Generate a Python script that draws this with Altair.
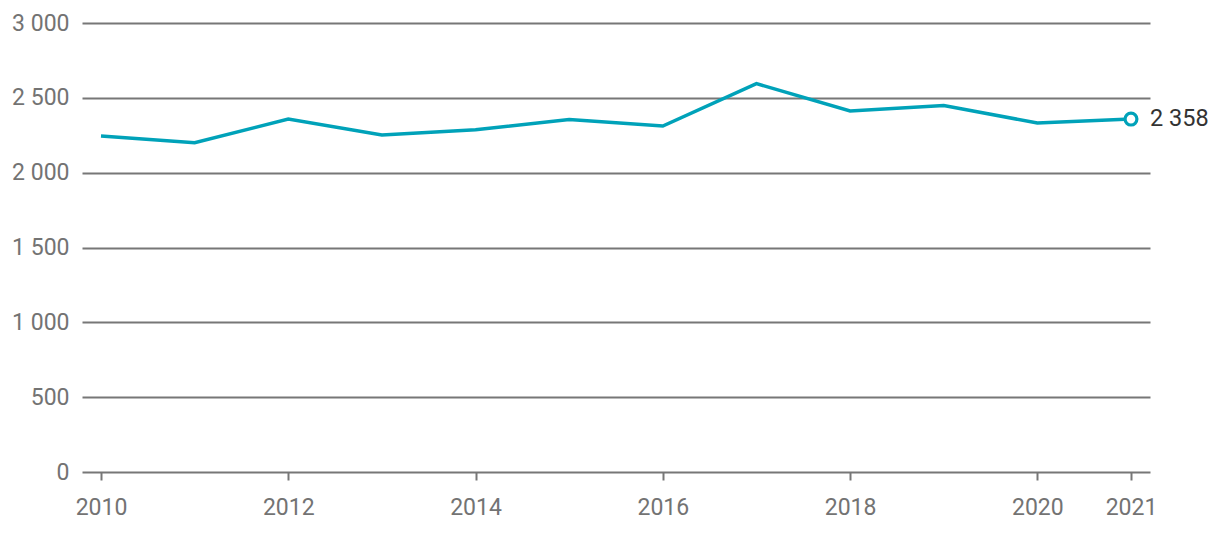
import altair as alt
import pandas as pd

years = [2010, 2011, 2012, 2013, 2014, 2015, 2016, 2017, 2018, 2019, 2020, 2021]
values = [2245, 2200, 2358, 2252, 2287, 2355, 2312, 2595, 2412, 2448, 2332, 2358]
x_ticks = [2010, 2012, 2014, 2016, 2018, 2020, 2021]
y_ticks = [0, 500, 1000, 1500, 2000, 2500, 3000]

df = pd.DataFrame({"year": years, "value": values})
last = df.tail(1)

LINE = "#00a2b9"
GRID = "#777777"
LAB = "#737373"

x = alt.X("year:Q", scale=alt.Scale(domain=[2009.797, 2021.203], nice=False, zero=False),
          axis=alt.Axis(values=x_ticks, format="d", title=None, grid=False, domain=False,
                        ticks=True, tickSize=8, tickColor=GRID, tickWidth=2,
                        labelFont="Roboto", labelFontSize=23, labelColor=LAB, labelPadding=16,
                        labelFlush=False))
y = alt.Y("value:Q", scale=alt.Scale(domain=[0, 3000], nice=False),
          axis=alt.Axis(values=y_ticks, title=None, domain=False, ticks=False,
                        grid=True, gridColor=GRID, gridWidth=1.8, gridOpacity=1,
                        labelExpr="replace(format(datum.value, ','), ',', ' ')",
                        labelFont="Roboto", labelFontSize=23, labelColor=LAB, labelPadding=13))

line = alt.Chart(df).mark_line(color=LINE, strokeWidth=3.5).encode(x=x, y=y)
pt = alt.Chart(last).mark_point(shape="circle", filled=True, fill="white", stroke=LINE,
                                strokeWidth=3.2, size=140, opacity=1).encode(x="year:Q", y="value:Q")
txt = alt.Chart(last).transform_calculate(
    lbl="replace(format(datum.value, ','), ',', ' ')"
).mark_text(align="left", dx=19, font="Roboto", fontSize=23.5, color="#333333").encode(
    x="year:Q", y="value:Q", text="lbl:N")

chart = alt.layer(line, pt, txt).properties(
    width=1068, height=449,
    autosize=alt.AutoSizeParams(type="none"),
    padding={"left": 74, "top": 15, "right": 62, "bottom": 54},
).configure(background="white", view=alt.ViewConfig(stroke=None))

chart.save("out.html", embed_options={"renderer": "svg", "actions": False})
